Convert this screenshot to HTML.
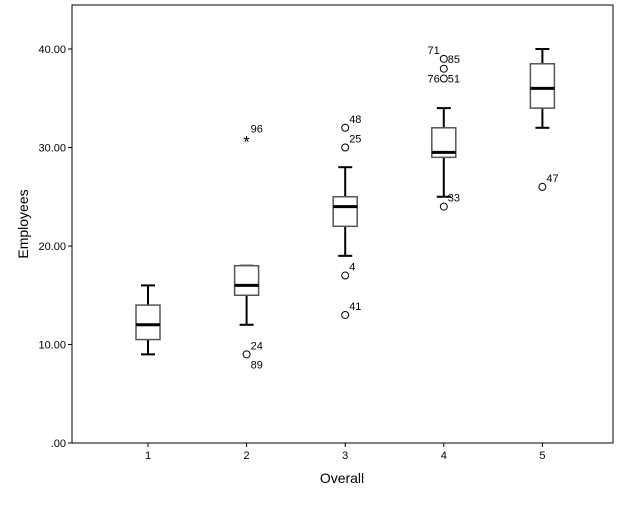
<!DOCTYPE html>
<html><head><meta charset="utf-8"><style>
body{margin:0;background:#fff;font-family:"Liberation Sans",sans-serif}
svg text{font-family:"Liberation Sans",sans-serif}
</style></head><body>
<svg id="c" width="626" height="501" xmlns="http://www.w3.org/2000/svg">
<rect x="72" y="5" width="541" height="438" fill="#fff" stroke="#000" stroke-width="1"/>
<g id="g"></g>
<text x="342" y="483" font-size="14" text-anchor="middle">Overall</text>
<text transform="translate(28,224) rotate(-90)" font-size="14" text-anchor="middle">Employees</text>
</svg>
<script>
const categories=["1","2","3","4","5"];
const lowW=[9,12,19,25,32];
const q1=[10.5,15,22,29,34];
const med=[12,16,24,29.5,36];
const q3=[14,18,25,32,38.5];
const highW=[16,18,28,34,40];
const outCat=[1,2,2,2,2,3,3,3,3,4];
const outVal=[9,32,30,17,13,39,38,37,24,26];
const lblCat=[1,1,2,2,2,2,3,3,3,3,3,4];
const lblVal=[9,9,32,30,17,13,39,39,37,37,24,26];
const lblText=["24","89","48","25","4","41","71","85","76","51","33","47"];
const lblPos=["ur","dr","ur","ur","ur","ur","ul","r","l","r","ur","ur"];
const extCat=[1];const extVal=[31];const extLbl=["96"];
const yTicks=[0,10,20,30,40];const yTickLbl=[".00","10.00","20.00","30.00","40.00"];
const NS="http://www.w3.org/2000/svg",g=document.getElementById("g");
const y=v=>443-9.85*v, x=i=>148+98.6*i;
function mk(t,a,p){const e=document.createElementNS(NS,t);for(const k in a)e.setAttribute(k,a[k]);(p||g).appendChild(e);return e;}
yTicks.forEach((v,i)=>{
const l=mk("line",{x1:68,x2:72,y1:y(v),y2:y(v),stroke:"#000"});


const t=mk("text",{x:66,y:y(v)+4,"font-size":11,"text-anchor":"end"});t.textContent=yTickLbl[i];

});
categories.forEach((c,i)=>{const cx=x(i);
const tk=mk("line",{x1:cx,x2:cx,y1:443,y2:447,stroke:"#000"});


const t=mk("text",{x:cx,y:459,"font-size":11,"text-anchor":"middle"});t.textContent=c;


const s="stroke:#000;stroke-width:2";
[[highW[i],q3[i]],[lowW[i],q1[i]]].forEach(([a,b])=>{if(a!==b){
const w=mk("line",{x1:cx,x2:cx,y1:y(a),y2:y(b),style:s});}
const cap=mk("line",{x1:cx-7,x2:cx+7,y1:y(a),y2:y(a),style:s});});
const b=mk("rect",{x:cx-12,y:y(q3[i]),width:24,height:y(q1[i])-y(q3[i]),fill:"#fff",stroke:"#555","stroke-width":1.5});


const m=mk("line",{x1:cx-12,x2:cx+12,y1:y(med[i]),y2:y(med[i]),stroke:"#000","stroke-width":3});

});
outVal.forEach((v,k)=>{const cx=x(outCat[k]);
const o=mk("circle",{cx:cx,cy:y(v),r:3.5,fill:"none",stroke:"#000","stroke-width":1});

});
const off={ur:[4,-5,"start"],dr:[4,14,"start"],ul:[-4,-5,"end"],r:[4,4,"start"],l:[-4,4,"end"]};
lblVal.forEach((v,k)=>{const cx=x(lblCat[k]);const o=off[lblPos[k]];
const t=mk("text",{x:cx+o[0],y:y(v)+o[1],"font-size":11,"text-anchor":o[2]});t.textContent=lblText[k];

});
extVal.forEach((v,k)=>{const cx=x(extCat[k]);
const t=mk("text",{x:cx,y:y(v)+10,"font-size":17,"text-anchor":"middle"});t.textContent="*";


const l=mk("text",{x:cx+4,y:y(v)-5,"font-size":11});l.textContent=extLbl[k];

});
</script>
</body></html>
